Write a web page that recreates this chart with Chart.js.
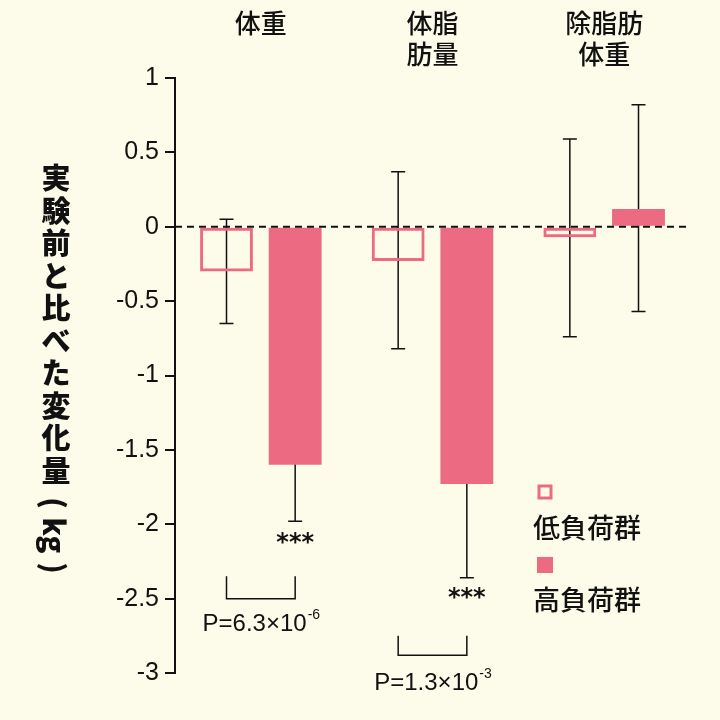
<!DOCTYPE html>
<html>
<head>
<meta charset="utf-8">
<title>変化量</title>
<style>
  html, body { margin: 0; padding: 0; background: #fdfcea; }
  #wrap { width: 720px; height: 720px; }
</style>
</head>
<body>
<div id="wrap"><canvas id="c" width="720" height="720"></canvas></div>
<script src="https://cdn.jsdelivr.net/npm/chart.js"></script>
<script>
var categories = [["体重", ""], ["体脂", "肪量"], ["除脂肪", "体重"]];
var seriesNames = ["低負荷群", "高負荷群"];
var lowMeans = [-0.30, -0.23, -0.07];
var lowErrLo = [-0.65, -0.82, -0.74];
var lowErrHi = [0.05, 0.37, 0.59];
var highMeans = [-1.60, -1.73, 0.12];
var highErrLo = [-1.98, -2.36, -0.57];
var highErrHi = [-1.22, -1.10, 0.82];
var yTicks = [1, 0.5, 0, -0.5, -1, -1.5, -2, -2.5, -3];
// brackets: [group, top value, bottom value, p text mantissa, exponent, label value]
var brackets = [
    [0, -2.35, -2.5, "P=6.3×10", "-6", -2.67],
    [1, -2.75, -2.88, "P=1.3×10", "-3", -3.07]
];
var stars = [[0, -2.13], [1, -2.5]];

var pink = "#ec6b82";

var extras = {
    id: "extras",
    beforeDatasetsDraw: function (chart) {
        var ctx = chart.ctx, y = chart.scales.y;
        var errs = [[lowErrLo, lowErrHi], [highErrLo, highErrHi]];
        ctx.save();
        ctx.strokeStyle = "#111";
        ctx.lineWidth = 1.5;
        for (var d = 0; d < 2; d++) {
            var meta = chart.getDatasetMeta(d);
            meta.data.forEach(function (bar, i) {
                var y1 = y.getPixelForValue(errs[d][0][i]);
                var y2 = y.getPixelForValue(errs[d][1][i]);
                ctx.beginPath();
                ctx.moveTo(bar.x, y1); ctx.lineTo(bar.x, y2);
                ctx.moveTo(bar.x - 7, y1); ctx.lineTo(bar.x + 7, y1);
                ctx.moveTo(bar.x - 7, y2); ctx.lineTo(bar.x + 7, y2);
                ctx.stroke();
            });
        }
        ctx.restore();
    },
    afterDatasetsDraw: function (chart) {
        var ctx = chart.ctx, y = chart.scales.y, a = chart.chartArea;
        ctx.save();
        ctx.strokeStyle = "#111";
        ctx.lineWidth = 2;
        ctx.setLineDash([7, 5]);
        var y0 = y.getPixelForValue(0);
        ctx.beginPath(); ctx.moveTo(a.left, y0); ctx.lineTo(a.right, y0); ctx.stroke();
        ctx.setLineDash([]);
        var m0 = chart.getDatasetMeta(0), m1 = chart.getDatasetMeta(1);
        ctx.lineWidth = 1.5;
        ctx.fillStyle = "#111";
        brackets.forEach(function (b) {
            var xa = m0.data[b[0]].x, xb = m1.data[b[0]].x;
            var yt = y.getPixelForValue(b[1]), yb = y.getPixelForValue(b[2]);
            ctx.beginPath();
            ctx.moveTo(xa, yt); ctx.lineTo(xa, yb); ctx.lineTo(xb, yb); ctx.lineTo(xb, yt);
            ctx.stroke();
            ctx.font = "24px 'Liberation Sans', sans-serif";
            var w1 = ctx.measureText(b[3]).width;
            ctx.font = "14px 'Liberation Sans', sans-serif";
            var w2 = ctx.measureText(b[4]).width;
            var xs = (xa + xb) / 2 - (w1 + w2) / 2;
            var ty = y.getPixelForValue(b[5]);
            ctx.textBaseline = "middle"; ctx.textAlign = "left";
            ctx.font = "24px 'Liberation Sans', sans-serif";
            ctx.fillText(b[3], xs, ty);
            ctx.font = "14px 'Liberation Sans', sans-serif";
            ctx.fillText(b[4], xs + w1 + 1, ty - 9);
        });
        ctx.font = "bold 24px 'DejaVu Sans', sans-serif";
        ctx.textAlign = "center";
        stars.forEach(function (s) {
            ctx.fillText("***", m1.data[s[0]].x, y.getPixelForValue(s[1]));
        });
        ctx.textAlign = "left";
        ctx.lineWidth = 3;
        ctx.strokeStyle = pink;
        ctx.strokeRect(539, 486, 12, 12);
        ctx.fillStyle = pink;
        ctx.fillRect(537, 557, 16, 16);
        ctx.fillStyle = "#111";
        ctx.font = "500 27px 'Noto Sans CJK JP', sans-serif";
        ctx.fillText(seriesNames[0], 533, 528);
        ctx.fillText(seriesNames[1], 533, 600);
        var chars = ["実", "験", "前", "と", "比", "べ", "た", "変", "化", "量", "（", "kg", "）"];
        ctx.font = "900 29px 'Noto Sans CJK JP', sans-serif";
        ctx.textAlign = "center";
        chars.forEach(function (ch, i) {
            var cy = 178 + i * 32.5;
            if (ch === "kg" || ch === "（" || ch === "）") {
                ctx.save();
                ctx.translate(56, cy);
                ctx.rotate(Math.PI / 2);
                ctx.fillText(ch === "（" ? "(" : ch === "）" ? ")" : ch, 0, 2);
                ctx.restore();
            } else {
                ctx.fillText(ch, 56, cy);
            }
        });
        ctx.restore();
    }
};

new Chart(document.getElementById("c"), {
    type: "bar",
    data: {
        labels: categories,
        datasets: [
            { label: seriesNames[0], data: lowMeans, backgroundColor: "rgba(0,0,0,0)",
              borderColor: pink, borderWidth: 3, borderSkipped: false },
            { label: seriesNames[1], data: highMeans, backgroundColor: pink,
              borderColor: pink, borderWidth: 0 }
        ]
    },
    options: {
        responsive: false,
        animation: false,
        layout: { padding: { left: 75, right: 30, top: 0, bottom: 47 } },
        categoryPercentage: 0.8,
        barPercentage: 0.77,
        scales: {
            x: {
                position: "top",
                grid: { display: false },
                border: { display: false },
                ticks: { color: "#111", font: { size: 26, weight: "500", family: "'Noto Sans CJK JP', sans-serif" }, padding: 0 },
                afterFit: function (s) { s.height = 78; }
            },
            y: {
                min: -3, max: 1,
                afterBuildTicks: function (s) { s.ticks = yTicks.map(function (v) { return { value: v }; }); },
                grid: { drawOnChartArea: false, drawTicks: true, tickLength: 10, color: "#111", lineWidth: 2 },
                border: { color: "#111", width: 2 },
                ticks: { color: "#111", font: { size: 25, family: "'Liberation Sans', sans-serif" }, padding: 6,
                         callback: function (v) { return String(v); } },
                afterFit: function (s) { s.width = 100; }
            }
        },
        plugins: { legend: { display: false }, tooltip: { enabled: false } }
    },
    plugins: [extras]
});
</script>
</body>
</html>
